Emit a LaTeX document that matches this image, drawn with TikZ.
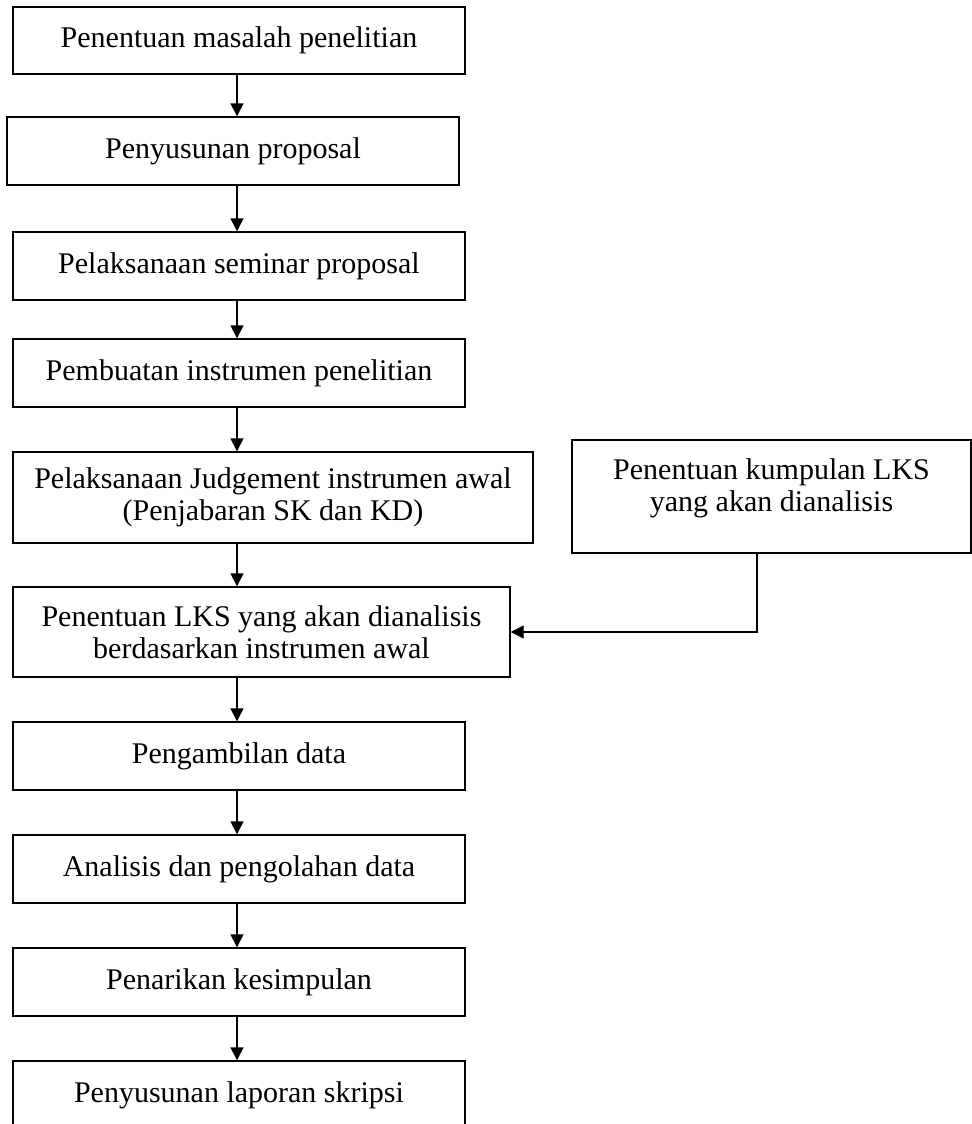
\documentclass[tikz,border=0pt]{standalone}
\usepackage{fontspec}
\setmainfont{Liberation Serif}
\usetikzlibrary{arrows.meta}

\begin{document}
\begin{tikzpicture}[x=0.5pt,y=-0.5pt,
  font=\fontsize{15}{16}\selectfont,
  box/.style={draw,line width=0.7pt,align=center,inner sep=0pt,
    minimum width=226pt,minimum height=34pt},
  flow/.style={line width=0.7pt,-{Triangle[length=6.5pt,width=6.5pt]}}]
  \useasboundingbox (0,0) rectangle (972,1124);
  \clip (0,0) rectangle (972,1124);

  % main column
  \node[box,minimum height=33.5pt] (masalah) at (239,40.5) {Penentuan masalah penelitian};
  \node[box] (proposal) at (233,151) {Penyusunan proposal};
  \node[box] (seminar) at (239,266) {Pelaksanaan seminar proposal};
  \node[box] (instrumen) at (239,373) {Pembuatan instrumen penelitian};
  \node[box,minimum width=260pt,minimum height=45.5pt] (judgement) at (273,497.5)
    {Pelaksanaan Judgement instrumen awal\\(Penjabaran SK dan KD)};
  \node[box,minimum width=248.5pt,minimum height=45pt] (lks) at (261.5,632)
    {Penentuan LKS yang akan dianalisis\\berdasarkan instrumen awal};
  \node[box] (data) at (239,756) {Pengambilan data};
  \node[box] (analisis) at (239,869) {Analisis dan pengolahan data};
  \node[box] (simpulan) at (239,982) {Penarikan kesimpulan};
  \node[box] (laporan) at (239,1095) {Penyusunan laporan skripsi};

  % side box
  \node[box,minimum width=199.5pt,minimum height=56.5pt,text depth=11pt] (kumpulan) at (771.5,496.5)
    {Penentuan kumpulan LKS\\yang akan dianalisis};

  % arrows
  \coordinate (spine) at (237,0);
  \coordinate (drop) at (757,0);
  \foreach \a/\b in {masalah/proposal,proposal/seminar,seminar/instrumen,
    instrumen/judgement,judgement/lks,lks/data,data/analisis,
    analisis/simpulan,simpulan/laporan}
    \draw[flow] (\a.south -| spine) -- (\b.north -| spine);
  \draw[flow] (kumpulan.south -| drop) |- (lks.east);
\end{tikzpicture}
\end{document}
